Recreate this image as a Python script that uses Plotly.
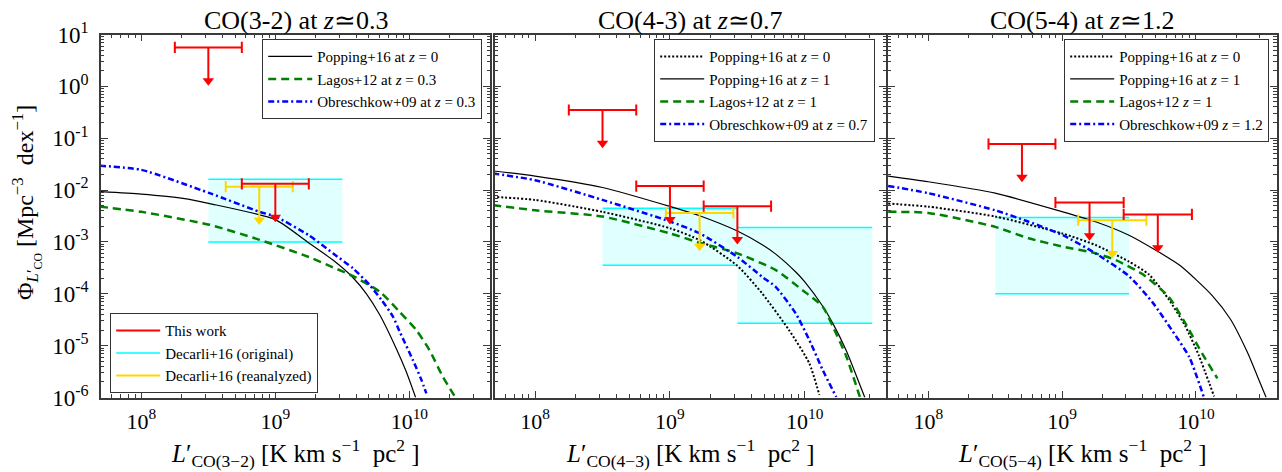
import numpy as np
import plotly.graph_objects as go

# ------------------------------------------------------------------
# DATA (log10 values)
# ------------------------------------------------------------------
# Panel 1 : CO(3-2) at z~0.3
p1_pop_z0_logL = [7.689, 8.0, 8.31, 8.51, 9.0, 9.25, 9.43, 9.58, 9.68, 9.78, 9.903, 9.978, 10.047]
p1_pop_z0_logP = [-2.03, -2.08, -2.16, -2.26, -2.57, -3.02, -3.35, -3.69, -4.00, -4.41, -5.06, -5.51, -6.0]
p1_lag_logL = [7.689, 8.0, 8.51, 8.883, 9.249, 9.43, 9.58, 9.78, 9.928, 10.052, 10.15, 10.25, 10.345]
p1_lag_logP = [-2.32, -2.42, -2.67, -2.96, -3.29, -3.49, -3.66, -3.96, -4.35, -4.70, -5.085, -5.60, -6.0]
p1_obr_logL = [7.689, 8.0, 8.51, 8.883, 9.0, 9.249, 9.43, 9.58, 9.70, 9.79, 9.878, 9.928, 10.027, 10.09, 10.127]
p1_obr_logP = [-1.53, -1.61, -2.06, -2.42, -2.51, -2.87, -3.22, -3.51, -3.82, -4.11, -4.44, -4.73, -5.28, -5.66, -5.92]

p1_red_lo = [8.25, 8.75]
p1_red_hi = [8.75, 9.25]
p1_red_lim = [0.75, -1.88]
p1_gold_lo = [8.63]
p1_gold_hi = [9.13]
p1_gold_lim = [-1.935]
p1_box_xlo = [8.5]
p1_box_xhi = [9.5]
p1_box_ylo = [-3.0]
p1_box_yhi = [-1.79]

# Panel 2 : CO(4-3) at z~0.7
p2_pop_z0_logL = [7.6875, 8.0, 8.5, 9.005, 9.225, 9.5, 9.683, 9.883, 10.033, 10.108]
p2_pop_z0_logP = [-2.13, -2.19, -2.42, -2.74, -2.97, -3.46, -3.99, -4.70, -5.34, -5.95]
p2_pop_z1_logL = [7.6875, 8.0, 8.5, 9.005, 9.225, 9.5, 9.6875, 9.782, 9.933, 10.0, 10.133, 10.208, 10.308, 10.385, 10.445]
p2_pop_z1_logP = [-1.63, -1.73, -1.95, -2.32, -2.50, -2.79, -3.06, -3.23, -3.58, -3.77, -4.24, -4.57, -5.10, -5.60, -6.0]
p2_lag_logL = [7.6875, 8.0, 8.5, 9.005, 9.225, 9.5, 9.782, 9.983, 10.133, 10.208, 10.308, 10.408]
p2_lag_logP = [-2.29, -2.39, -2.51, -2.84, -3.02, -3.22, -3.54, -3.93, -4.25, -4.63, -5.21, -5.99]
p2_obr_logL = [7.6875, 8.0, 8.5, 9.005, 9.225, 9.5, 9.6875, 9.782, 9.933, 10.033, 10.133, 10.233]
p2_obr_logP = [-1.68, -1.81, -2.19, -2.61, -2.84, -3.29, -3.68, -3.86, -4.38, -4.89, -5.47, -5.99]

p2_red_lo = [8.25, 8.75, 9.25]
p2_red_hi = [8.75, 9.25, 9.75]
p2_red_lim = [-0.456, -1.923, -2.31]
p2_gold_lo = [8.97]
p2_gold_hi = [9.47]
p2_gold_lim = [-2.44]
p2_box_xlo = [8.5, 9.5]
p2_box_xhi = [9.5, 10.5]
p2_box_ylo = [-3.45, -4.57]
p2_box_yhi = [-2.35, -2.72]

# Panel 3 : CO(5-4) at z~1.2
p3_pop_z0_logL = [7.70, 8.0, 8.5, 9.005, 9.25, 9.5, 9.65, 9.8, 9.92, 10.02, 10.136]
p3_pop_z0_logP = [-2.26, -2.32, -2.51, -2.84, -3.06, -3.38, -3.63, -4.12, -4.62, -5.18, -5.98]
p3_pop_z1_logL = [7.70, 8.0, 8.5, 9.005, 9.25, 9.5, 9.7, 9.884, 10.12, 10.258, 10.383, 10.483, 10.525]
p3_pop_z1_logP = [-1.73, -1.84, -2.06, -2.42, -2.61, -2.87, -3.16, -3.46, -4.03, -4.49, -5.12, -5.74, -6.0]
p3_lag_logL = [7.70, 8.0, 8.5, 8.75, 9.005, 9.25, 9.4, 9.6, 9.797, 9.921, 10.046, 10.16]
p3_lag_logP = [-2.42, -2.44, -2.71, -2.93, -3.09, -3.22, -3.35, -3.62, -4.06, -4.57, -5.15, -5.63]
p3_obr_logL = [7.70, 8.0, 8.5, 8.75, 9.005, 9.25, 9.5, 9.68, 9.82, 9.95, 10.06]
p3_obr_logP = [-1.92, -2.06, -2.39, -2.61, -2.87, -3.22, -3.66, -4.18, -4.70, -5.22, -6.0]

p3_red_lo = [8.45, 8.95, 9.46]
p3_red_hi = [8.95, 9.46, 9.97]
p3_red_lim = [-1.112, -2.24, -2.47]
p3_gold_lo = [9.12]
p3_gold_hi = [9.63]
p3_gold_lim = [-2.58]
p3_box_xlo = [8.5]
p3_box_xhi = [9.5]
p3_box_ylo = [-4.0]
p3_box_yhi = [-2.53]

# Axis ticks / labels
x_tickvals = [1e8, 1e9, 1e10]
x_ticktext = ["10<sup>8</sup>", "10<sup>9</sup>", "10<sup>10</sup>"]
y_tickvals = [1e-6, 1e-5, 1e-4, 1e-3, 1e-2, 1e-1, 1e0, 1e1]
y_ticktext = ["10<sup>-6</sup>", "10<sup>-5</sup>", "10<sup>-4</sup>", "10<sup>-3</sup>",
              "10<sup>-2</sup>", "10<sup>-1</sup>", "10<sup>0</sup>", "10<sup>1</sup>"]
titles = ["CO(3-2) at <i>z</i>≃0.3", "CO(4-3) at <i>z</i>≃0.7", "CO(5-4) at <i>z</i>≃1.2"]
xtitles = ["<i>L</i>′<sub>CO(3−2)</sub> [K km s<sup>−1</sup>  pc<sup>2</sup> ]",
           "<i>L</i>′<sub>CO(4−3)</sub> [K km s<sup>−1</sup>  pc<sup>2</sup> ]",
           "<i>L</i>′<sub>CO(5−4)</sub> [K km s<sup>−1</sup>  pc<sup>2</sup> ]"]
ytitle = "Φ<sub><i>L</i>′<sub>CO</sub></sub> [Mpc<sup>−3</sup>  dex<sup>−1</sup>]"

# ------------------------------------------------------------------
# STYLE
# ------------------------------------------------------------------
W, H = 1282, 472
FONT = "Liberation Serif, Times New Roman, serif"
RED, GOLD, CYAN = "#ff0000", "#ffd700", "#00ffff"
ARROW_DEX = 0.73      # length of upper-limit arrows
HEAD_OFF = 0.087      # marker centre offset above the arrow tip (dex)

x_domains = [[101 / W, 490 / W], [494.5 / W, 886 / W], [888 / W, 1276.5 / W]]
y_domain = [1 - 397.5 / H, 1 - 34.5 / H]
xrange_log = [np.log10(5e7), np.log10(4e10)]
yrange_log = [-6, 1]

minor_x = [m * 10.0 ** k for k in range(7, 11) for m in range(2, 10)]
minor_y = [m * 10.0 ** k for k in range(-6, 1) for m in range(2, 10)]

fig = go.Figure()
axes = [("x", "y"), ("x2", "y2"), ("x3", "y3")]


def p10(a):
    return [None if v is None else 10.0 ** v for v in a]


def add_curve(ax, logL, logP, name, color, width, dash, legend, rank):
    fig.add_trace(go.Scatter(
        x=p10(logL), y=p10(logP), mode="lines", name=name,
        line=dict(color=color, width=width, dash=dash, shape="spline", smoothing=0.6),
        xaxis=ax[0], yaxis=ax[1], legend=legend, legendrank=rank,
        showlegend=legend is not None))


def add_box(ax, xlo, xhi, ylo, yhi, showlegend):
    fx, fy, ex, ey = [], [], [], []
    for a, b, c, d in zip(xlo, xhi, ylo, yhi):
        fx += [a, b, b, a, a, None]
        fy += [c, c, d, d, c, None]
        ex += [a, b, None, a, b, None]
        ey += [d, d, None, c, c, None]
    fig.add_trace(go.Scatter(x=p10(fx), y=p10(fy), mode="lines", fill="toself",
                             fillcolor="rgba(0,255,255,0.12)", line=dict(width=0),
                             xaxis=ax[0], yaxis=ax[1], showlegend=False, hoverinfo="skip"))
    fig.add_trace(go.Scatter(x=p10(ex), y=p10(ey), mode="lines", name="Decarli+16 (original)",
                             line=dict(color=CYAN, width=1.5), xaxis=ax[0], yaxis=ax[1],
                             legend="legend2", legendrank=2, showlegend=showlegend))


def add_limits(ax, lo, hi, lim, color, name, rank, showlegend):
    bx, by, sx, sy, hx, hy = [], [], [], [], [], []
    for a, b, v in zip(lo, hi, lim):
        c = 0.5 * (a + b)
        bx += [a, b, None]
        by += [v, v, None]
        sx += [c, c, None]
        sy += [v, v - ARROW_DEX + HEAD_OFF, None]
        hx.append(c)
        hy.append(v - ARROW_DEX + HEAD_OFF)
    fig.add_trace(go.Scatter(x=p10(sx), y=p10(sy), mode="lines", name=name,
                             line=dict(color=color, width=2), xaxis=ax[0], yaxis=ax[1],
                             legend="legend2", legendrank=rank, showlegend=showlegend))
    fig.add_trace(go.Scatter(x=p10(bx), y=p10(by), mode="lines+markers",
                             line=dict(color=color, width=2),
                             marker=dict(symbol="line-ns", size=8,
                                         line=dict(color=color, width=2)),
                             xaxis=ax[0], yaxis=ax[1], showlegend=False))
    fig.add_trace(go.Scatter(x=p10(hx), y=p10(hy), mode="markers",
                             marker=dict(symbol="triangle-down", size=10, color=color,
                                         line=dict(width=0)),
                             xaxis=ax[0], yaxis=ax[1], showlegend=False))


DOT = dict(color="black", width=2, dash="2px,2px")
SOLID = dict(color="black", width=1.2, dash="solid")
GREEN = dict(color="#008000", width=2.5, dash="8px,5px")
BLUE = dict(color="#0000ff", width=2.5, dash="6px,3px,2px,3px")

# ---- Panel 1 ----
ax = axes[0]
add_box(ax, p1_box_xlo, p1_box_xhi, p1_box_ylo, p1_box_yhi, True)
add_curve(ax, p1_pop_z0_logL, p1_pop_z0_logP, "Popping+16 at <i>z</i> = 0", **SOLID, legend="legend", rank=1)
add_curve(ax, p1_lag_logL, p1_lag_logP, "Lagos+12 at <i>z</i> = 0.3", **GREEN, legend="legend", rank=2)
add_curve(ax, p1_obr_logL, p1_obr_logP, "Obreschkow+09 at <i>z</i> = 0.3", **BLUE, legend="legend", rank=3)
add_limits(ax, p1_gold_lo, p1_gold_hi, p1_gold_lim, GOLD, "Decarli+16 (reanalyzed)", 3, True)
add_limits(ax, p1_red_lo, p1_red_hi, p1_red_lim, RED, "This work", 1, True)

# ---- Panel 2 ----
ax = axes[1]
add_box(ax, p2_box_xlo, p2_box_xhi, p2_box_ylo, p2_box_yhi, False)
add_curve(ax, p2_pop_z0_logL, p2_pop_z0_logP, "Popping+16 at <i>z</i> = 0", **DOT, legend="legend3", rank=1)
add_curve(ax, p2_pop_z1_logL, p2_pop_z1_logP, "Popping+16 at <i>z</i> = 1", **SOLID, legend="legend3", rank=2)
add_curve(ax, p2_lag_logL, p2_lag_logP, "Lagos+12 at <i>z</i> = 1", **GREEN, legend="legend3", rank=3)
add_curve(ax, p2_obr_logL, p2_obr_logP, "Obreschkow+09 at <i>z</i> = 0.7", **BLUE, legend="legend3", rank=4)
add_limits(ax, p2_gold_lo, p2_gold_hi, p2_gold_lim, GOLD, "Decarli+16 (reanalyzed)", 3, False)
add_limits(ax, p2_red_lo, p2_red_hi, p2_red_lim, RED, "This work", 1, False)

# ---- Panel 3 ----
ax = axes[2]
add_box(ax, p3_box_xlo, p3_box_xhi, p3_box_ylo, p3_box_yhi, False)
add_curve(ax, p3_pop_z0_logL, p3_pop_z0_logP, "Popping+16 at <i>z</i> = 0", **DOT, legend="legend4", rank=1)
add_curve(ax, p3_pop_z1_logL, p3_pop_z1_logP, "Popping+16 at <i>z</i> = 1", **SOLID, legend="legend4", rank=2)
add_curve(ax, p3_lag_logL, p3_lag_logP, "Lagos+12 <i>z</i> = 1", **GREEN, legend="legend4", rank=3)
add_curve(ax, p3_obr_logL, p3_obr_logP, "Obreschkow+09 <i>z</i> = 1.2", **BLUE, legend="legend4", rank=4)
add_limits(ax, p3_gold_lo, p3_gold_hi, p3_gold_lim, GOLD, "Decarli+16 (reanalyzed)", 3, False)
add_limits(ax, p3_red_lo, p3_red_hi, p3_red_lim, RED, "This work", 1, False)

# ---- axes ----
AXCOL = "#3a3a3a"
for i in range(3):
    sfx = "" if i == 0 else str(i + 1)
    fig.layout["xaxis" + sfx] = dict(
        type="log", range=xrange_log, domain=x_domains[i], anchor="y" + sfx,
        showline=True, linecolor=AXCOL, linewidth=1.6, mirror="allticks",
        ticks="inside", ticklen=7, tickwidth=1, tickcolor=AXCOL,
        tickmode="array", tickvals=x_tickvals, ticktext=x_ticktext,
        ticklabelstandoff=3, automargin=False,
        minor=dict(ticks="inside", ticklen=3.5, tickcolor=AXCOL, tickmode="array",
                   tickvals=minor_x, showgrid=False),
        showgrid=False, zeroline=False,
        tickfont=dict(family=FONT, size=22, color="black"))
    fig.layout["yaxis" + sfx] = dict(
        type="log", range=yrange_log, domain=y_domain, anchor="x" + sfx,
        showline=True, linecolor=AXCOL, linewidth=1.6, mirror="allticks",
        ticks="inside", ticklen=7, tickwidth=1, tickcolor=AXCOL,
        tickmode="array", tickvals=y_tickvals, ticktext=y_ticktext,
        showticklabels=(i == 0), ticklabelstandoff=6, automargin=False,
        minor=dict(ticks="inside", ticklen=3.5, tickcolor=AXCOL, tickmode="array",
                   tickvals=minor_y, showgrid=False),
        showgrid=False, zeroline=False,
        tickfont=dict(family=FONT, size=23, color="black"))

# ---- annotations ----
ann = []
for i in range(3):
    xc = 0.5 * (x_domains[i][0] + x_domains[i][1])
    ann.append(dict(text=titles[i], x=xc, y=1 - 20 / H, xref="paper", yref="paper",
                    xanchor="center", yanchor="middle", showarrow=False,
                    font=dict(family=FONT, size=26, color="black")))
    ann.append(dict(text=xtitles[i], x=xc, y=1 - 453 / H, xref="paper", yref="paper",
                    xanchor="center", yanchor="middle", showarrow=False,
                    font=dict(family=FONT, size=25, color="black")))
ann.append(dict(text=ytitle, x=26 / W, y=1 - 203 / H, xref="paper", yref="paper",
                xanchor="center", yanchor="middle", textangle=-90, showarrow=False,
                font=dict(family=FONT, size=24, color="black")))

leg_common = dict(bgcolor="white", bordercolor="#333333", borderwidth=1.2,
                  font=dict(family=FONT, size=15, color="black"), tracegroupgap=0,
                  itemwidth=44)
fig.update_layout(
    width=W, height=H, autosize=False,
    margin=dict(l=0, r=0, t=0, b=0, pad=0, autoexpand=False),
    paper_bgcolor="white", plot_bgcolor="white",
    annotations=ann,
    legend=dict(x=482 / W, y=1 - 39 / H, xanchor="right", yanchor="top", **leg_common),
    legend2=dict(x=110 / W, y=1 - 393 / H, xanchor="left", yanchor="bottom", **leg_common),
    legend3=dict(x=875 / W, y=1 - 39 / H, xanchor="right", yanchor="top", **leg_common),
    legend4=dict(x=1269 / W, y=1 - 39 / H, xanchor="right", yanchor="top", **leg_common),
)

fig.write_html("out.html")
